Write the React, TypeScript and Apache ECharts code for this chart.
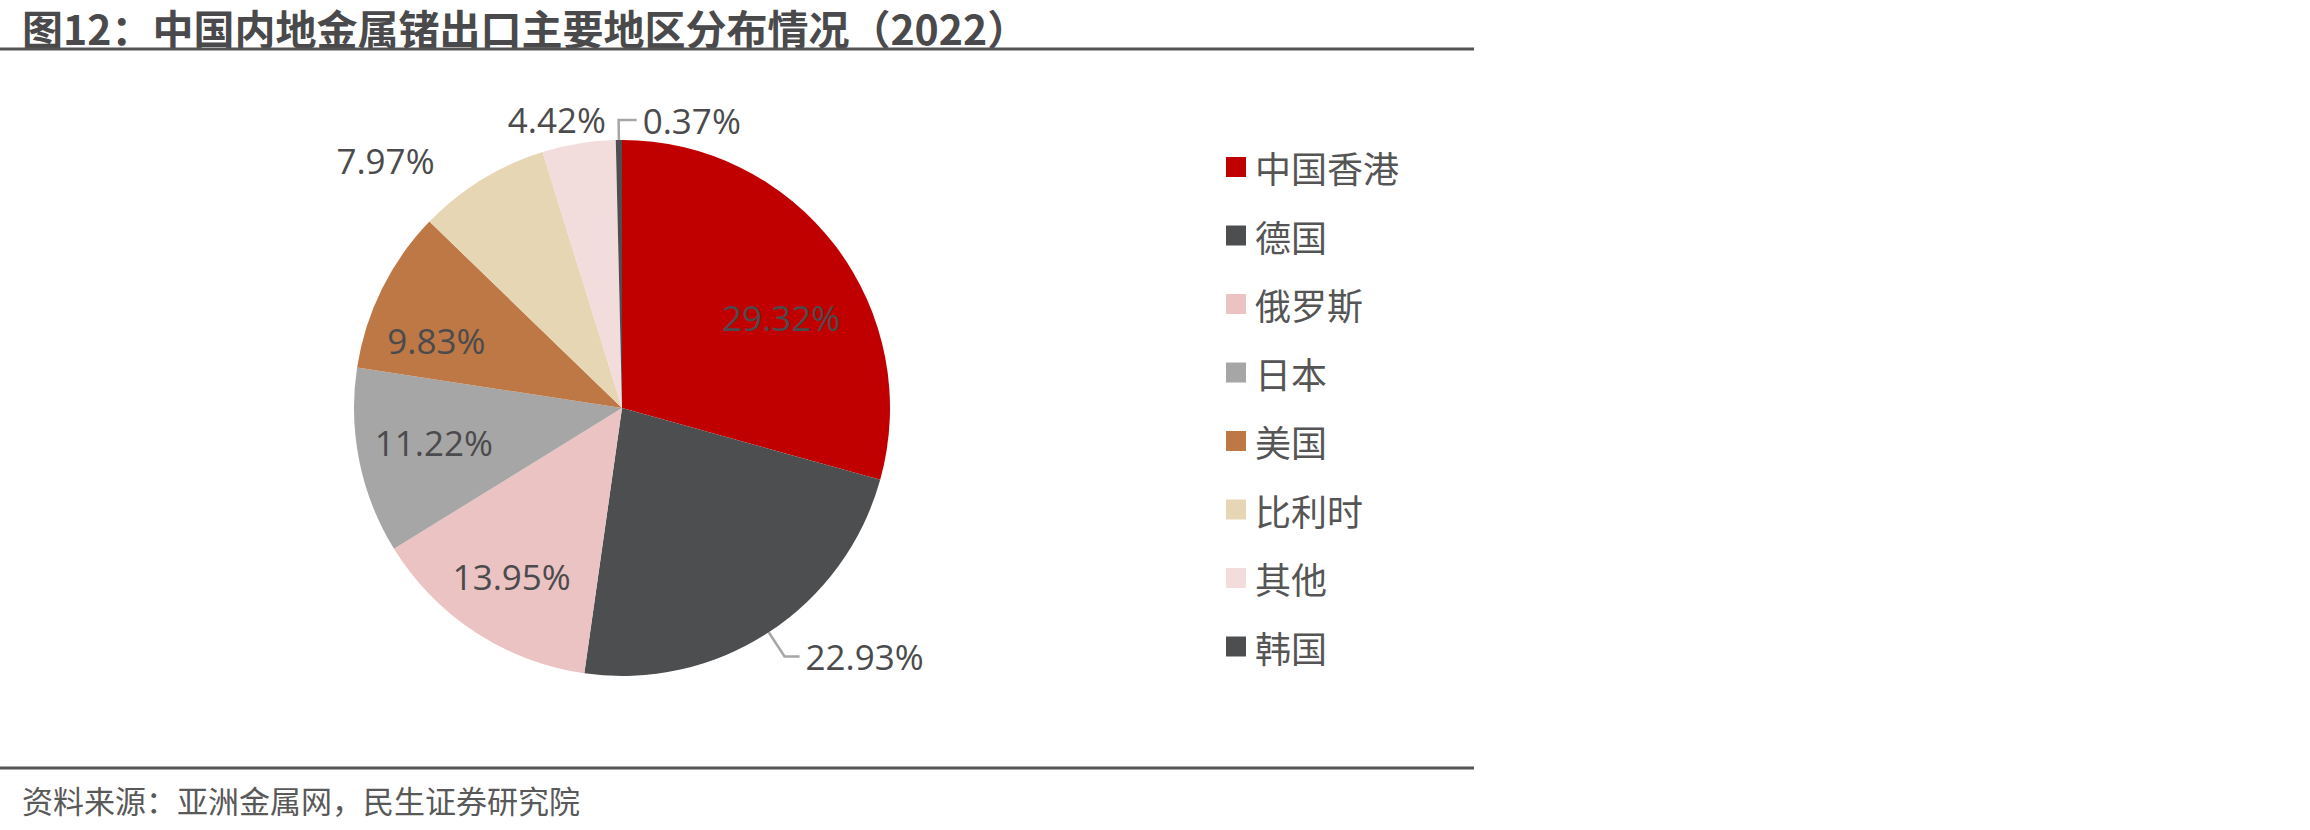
import React, { useEffect, useRef } from "react";
import * as echarts from "echarts";

const categories = ["中国香港", "德国", "俄罗斯", "日本", "美国", "比利时", "其他", "韩国"];
const shares = [29.32, 22.93, 13.95, 11.22, 9.83, 7.97, 4.42, 0.37];
const sliceColors = ["#C00000", "#4D4E50", "#EBC3C3", "#A6A6A6", "#BD7845", "#E6D6B4", "#F2DCDC", "#4D4E50"];
const titleText = "图12：中国内地金属锗出口主要地区分布情况（2022）";
const sourceText = "资料来源：亚洲金属网，民生证券研究院";

const CJK = "'Noto Sans CJK SC', 'Noto Sans', sans-serif";
const NUM = "'Open Sans', 'Noto Sans CJK SC', sans-serif";
const TEXT_COLOR = "#4B4B4D";

// per-slice label style: inside label (with small offset), or outside with/without leader line
const labelStyles: any[] = [
  { position: "inside", offset: [3, 28] },
  { position: "outside", line: true, length: 29, length2: 15 },
  { position: "inside", offset: [-3, 4] },
  { position: "inside", offset: [4, -5] },
  { position: "inside", offset: [-10, 20] },
  { position: "outside", line: false, length: 23, length2: 29 },
  { position: "outside", line: false, length: 24, length2: -37 },
  { position: "outside", line: true, length: 20, length2: 18, flip: true },
];

export default function App() {
  const ref = useRef<HTMLDivElement>(null);

  useEffect(() => {
    if (!ref.current) return;
    const chart = echarts.init(ref.current, undefined, { renderer: "svg" });
    const center = [622, 408];
    const R = 268;

    const baseData = categories.map((name, i) => ({
      name,
      value: shares[i],
      itemStyle: { color: sliceColors[i] },
    }));

    const labelData = categories.map((name, i) => {
      const s = labelStyles[i];
      return {
        name,
        value: shares[i],
        itemStyle: { color: "rgba(0,0,0,0)" },
        label: { position: s.position, offset: s.offset ?? [0, 0] },
        labelLine: {
          show: !!s.line,
          length: s.length ?? 10,
          length2: s.length2 ?? 10,
        },
      };
    });

    const option: any = {
      animation: false,
      backgroundColor: "#ffffff",
      legend: {
        orient: "vertical",
        left: 1221,
        top: 144,
        itemWidth: 20,
        itemHeight: 20,
        itemGap: 32.5,
        icon: "rect",
        selectedMode: false,
        data: categories,
        textStyle: {
          fontFamily: CJK,
          fontSize: 36,
          lineHeight: 36,
          color: "#555555",
          padding: [0, 0, 0, 4],
        },
      },
      graphic: [
        {
          type: "text",
          x: 22,
          y: 27,
          style: {
            text: titleText,
            fontFamily: CJK,
            fontWeight: "bold",
            fontSize: 41,
            fill: "#4A4A4C",
            verticalAlign: "middle",
          },
        },
        {
          type: "line",
          shape: { x1: 0, y1: 49, x2: 1474, y2: 49 },
          style: { stroke: "#555555", lineWidth: 3 },
        },
        {
          type: "line",
          shape: { x1: 0, y1: 768, x2: 1474, y2: 768 },
          style: { stroke: "#555555", lineWidth: 3 },
        },
        {
          type: "text",
          x: 22,
          y: 799,
          style: {
            text: sourceText,
            fontFamily: CJK,
            fontSize: 31,
            fill: "#595959",
            verticalAlign: "middle",
          },
        },
      ],
      series: [
        {
          type: "pie",
          center,
          radius: [0, R],
          startAngle: 90,
          clockwise: true,
          silent: true,
          avoidLabelOverlap: false,
          itemStyle: { borderWidth: 0 },
          label: { show: false },
          labelLine: { show: false },
          emphasis: { disabled: true },
          data: baseData,
        },
        {
          type: "pie",
          center,
          radius: [118, R],
          startAngle: 90,
          clockwise: true,
          silent: true,
          avoidLabelOverlap: false,
          legendHoverLink: false,
          itemStyle: { borderWidth: 0 },
          emphasis: { disabled: true },
          label: {
            show: true,
            fontFamily: NUM,
            fontSize: 35,
            color: TEXT_COLOR,
            distanceToLabelLine: 6,
            formatter: (p: any) => `${Number(p.value).toFixed(2)}%`,
          },
          labelLine: {
            minTurnAngle: 0,
            maxSurfaceAngle: 180,
            lineStyle: { color: "#A6A6A6", width: 2.5 },
          },
          labelLayout: (params: any) => {
            const s = labelStyles[params.dataIndex];
            if (!s || !s.flip || !params.labelLinePoints) return {};
            const [p0, p1, p2] = params.labelLinePoints;
            const len2 = Math.abs(p1[0] - p2[0]);
            const p3 = [p1[0] + len2, p1[1]];
            return {
              x: p3[0] + 6,
              y: p3[1],
              align: "left",
              verticalAlign: "middle",
              labelLinePoints: [p0, p1, p3],
            };
          },
          data: labelData,
        },
      ],
    };

    chart.setOption(option);
    return () => chart.dispose();
  }, []);

  return (
    <div
      ref={ref}
      style={{ position: "fixed", left: 0, top: 0, width: 2310, height: 830, background: "#fff" }}
    />
  );
}
